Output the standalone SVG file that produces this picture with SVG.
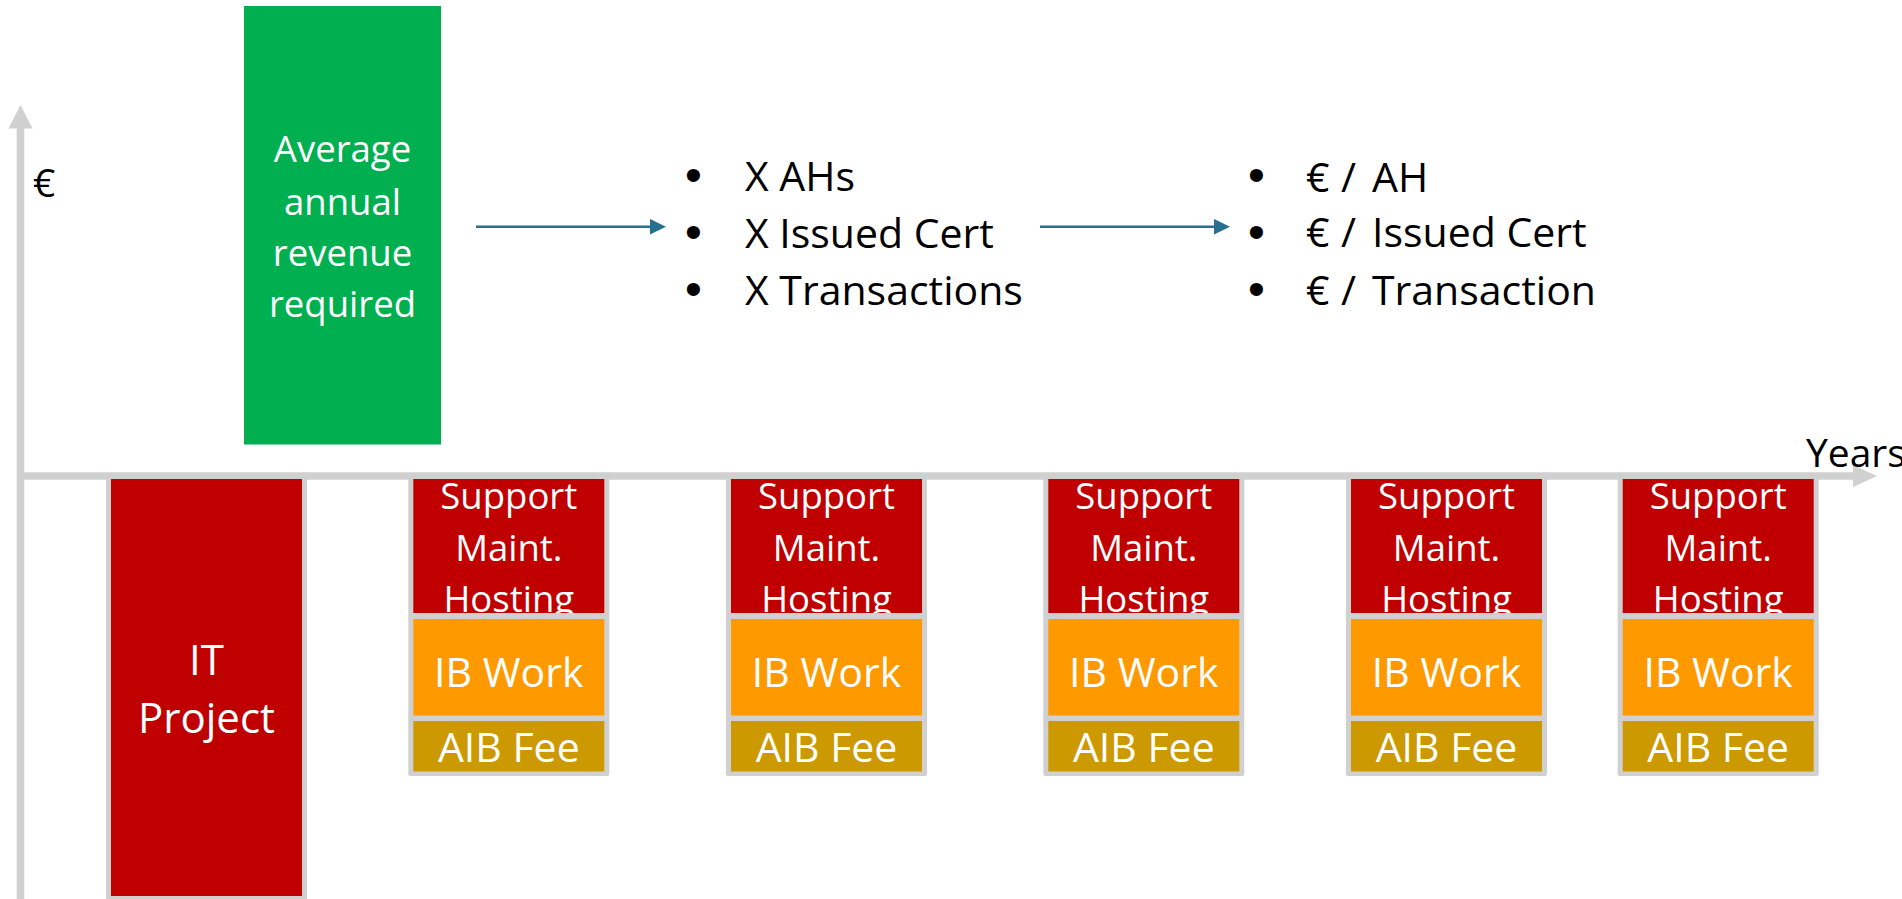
<svg xmlns="http://www.w3.org/2000/svg" width="1902" height="899" viewBox="0 0 1902 899">
<defs>
<style>
.t{font-family:"Open Sans","Liberation Sans",sans-serif}
.w{fill:#fff;text-anchor:middle}
.s{font-size:36.5px}
.l{font-size:41px}
.k{fill:#000;font-size:39px}
.b{fill:#000;font-size:41px}
.bul{font-family:"Liberation Sans",Arial,sans-serif;font-size:48px;fill:#000;text-anchor:middle}
.gray{fill:#D0D0D0}
.red{fill:#C00000}
.org{fill:#FF9900}
.gold{fill:#CC9900}
.axis{stroke:#D0D0D0;stroke-width:7.5;fill:none}
.conn{stroke:#27708F;stroke-width:2.6;fill:none}
</style>
<marker id="ah" markerUnits="userSpaceOnUse" markerWidth="17" markerHeight="16" refX="0" refY="7.75" orient="auto">
<path d="M0,0 L16,7.75 L0,15.5 z" fill="#27708F"/>
</marker>
<clipPath id="clipRed" clipPathUnits="userSpaceOnUse"><rect x="0" y="479" width="191" height="134"/></clipPath>
</defs>
<rect width="1902" height="899" fill="#fff"/>

<g id="axes">
<line class="axis" x1="20.5" y1="126" x2="20.5" y2="899"/>
<polygon class="gray" points="8.5,128.5 20.5,105 32.5,128.5"/>
<line class="axis" x1="17" y1="476" x2="1855" y2="476"/>
<polygon class="gray" points="1853,465 1877,476 1853,487"/>
<text class="t k" x="33" y="196.7">€</text>
<text class="t k" x="1806" y="466.7">Years</text>
</g>

<g id="revenue">
<rect x="244" y="6" width="197" height="438.5" fill="#00B050"/>
<text class="t w s" x="342.5" y="162.3">Average</text>
<text class="t w s" x="342.5" y="215">annual</text>
<text class="t w s" x="342.5" y="265.7">revenue</text>
<text class="t w s" x="342.5" y="316.7">required</text>
</g>

<g id="volumes">
<text class="bul" x="693.3" y="191">•</text>
<text class="bul" x="693.3" y="248">•</text>
<text class="bul" x="693.3" y="304.5">•</text>
<text class="t b" x="745" y="190.7">X AHs</text>
<text class="t b" x="745" y="248.3">X Issued Cert</text>
<text class="t b" x="745" y="305">X Transactions</text>
</g>

<g id="prices">
<text class="bul" x="1256.5" y="191">•</text>
<text class="bul" x="1256.5" y="248">•</text>
<text class="bul" x="1256.5" y="304.5">•</text>
<text class="t b" y="191.7"><tspan x="1306">€</tspan><tspan x="1341">/</tspan><tspan x="1372">AH</tspan></text>
<text class="t b" y="247.3"><tspan x="1306">€</tspan><tspan x="1341">/</tspan><tspan x="1372">Issued Cert</tspan></text>
<text class="t b" y="305"><tspan x="1306">€</tspan><tspan x="1341">/</tspan><tspan x="1372">Transaction</tspan></text>
</g>

<g id="connectors">
<line class="conn" x1="476" y1="226.7" x2="650" y2="226.7" marker-end="url(#ah)"/>
<line class="conn" x1="1040" y1="226.7" x2="1214" y2="226.7" marker-end="url(#ah)"/>
</g>

<g id="it-project">
<rect class="gray" x="106" y="474" width="201" height="430"/>
<rect class="red" x="111" y="479" width="191" height="417"/>
<text class="t w" x="206.5" y="675" font-size="42">IT</text>
<text class="t w" x="206.5" y="733" font-size="42">Project</text>
</g>

<g id="year1" transform="translate(413.3,0)">
<rect class="gray" x="-5" y="474" width="201" height="302" rx="2"/>
<rect class="red" x="0" y="479" width="191" height="134"/>
<g clip-path="url(#clipRed)">
<text class="t w s" x="95.5" y="509.3">Support</text>
<text class="t w s" x="95.5" y="560.7">Maint.</text>
<text class="t w s" x="95.5" y="611.7">Hosting</text>
</g>
<rect class="org" x="0" y="619" width="191" height="96.5"/>
<text class="t w l" x="95.5" y="686.7">IB Work</text>
<rect class="gold" x="0" y="721" width="191" height="50.5"/>
<text class="t w l" x="95.5" y="762.3">AIB Fee</text>
</g>

<g id="year2" transform="translate(731,0)">
<rect class="gray" x="-5" y="474" width="201" height="302" rx="2"/>
<rect class="red" x="0" y="479" width="191" height="134"/>
<g clip-path="url(#clipRed)">
<text class="t w s" x="95.5" y="509.3">Support</text>
<text class="t w s" x="95.5" y="560.7">Maint.</text>
<text class="t w s" x="95.5" y="611.7">Hosting</text>
</g>
<rect class="org" x="0" y="619" width="191" height="96.5"/>
<text class="t w l" x="95.5" y="686.7">IB Work</text>
<rect class="gold" x="0" y="721" width="191" height="50.5"/>
<text class="t w l" x="95.5" y="762.3">AIB Fee</text>
</g>

<g id="year3" transform="translate(1048.3,0)">
<rect class="gray" x="-5" y="474" width="201" height="302" rx="2"/>
<rect class="red" x="0" y="479" width="191" height="134"/>
<g clip-path="url(#clipRed)">
<text class="t w s" x="95.5" y="509.3">Support</text>
<text class="t w s" x="95.5" y="560.7">Maint.</text>
<text class="t w s" x="95.5" y="611.7">Hosting</text>
</g>
<rect class="org" x="0" y="619" width="191" height="96.5"/>
<text class="t w l" x="95.5" y="686.7">IB Work</text>
<rect class="gold" x="0" y="721" width="191" height="50.5"/>
<text class="t w l" x="95.5" y="762.3">AIB Fee</text>
</g>

<g id="year4" transform="translate(1351,0)">
<rect class="gray" x="-5" y="474" width="201" height="302" rx="2"/>
<rect class="red" x="0" y="479" width="191" height="134"/>
<g clip-path="url(#clipRed)">
<text class="t w s" x="95.5" y="509.3">Support</text>
<text class="t w s" x="95.5" y="560.7">Maint.</text>
<text class="t w s" x="95.5" y="611.7">Hosting</text>
</g>
<rect class="org" x="0" y="619" width="191" height="96.5"/>
<text class="t w l" x="95.5" y="686.7">IB Work</text>
<rect class="gold" x="0" y="721" width="191" height="50.5"/>
<text class="t w l" x="95.5" y="762.3">AIB Fee</text>
</g>

<g id="year5" transform="translate(1622.7,0)">
<rect class="gray" x="-5" y="474" width="201" height="302" rx="2"/>
<rect class="red" x="0" y="479" width="191" height="134"/>
<g clip-path="url(#clipRed)">
<text class="t w s" x="95.5" y="509.3">Support</text>
<text class="t w s" x="95.5" y="560.7">Maint.</text>
<text class="t w s" x="95.5" y="611.7">Hosting</text>
</g>
<rect class="org" x="0" y="619" width="191" height="96.5"/>
<text class="t w l" x="95.5" y="686.7">IB Work</text>
<rect class="gold" x="0" y="721" width="191" height="50.5"/>
<text class="t w l" x="95.5" y="762.3">AIB Fee</text>
</g>
</svg>
